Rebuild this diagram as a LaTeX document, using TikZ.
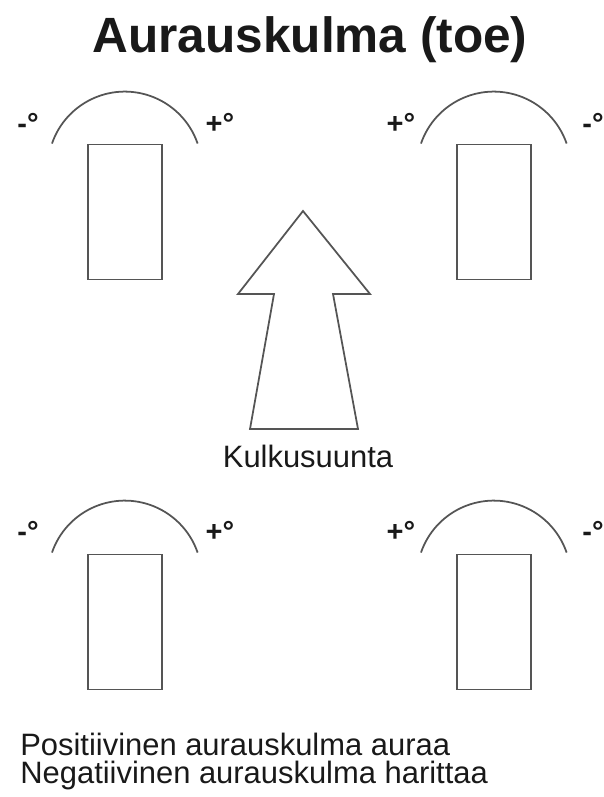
\documentclass[tikz,border=0pt]{standalone}
\usepackage{fontspec}
\setmainfont{Liberation Sans}
\usepackage{xcolor}
\usetikzlibrary{positioning}

\definecolor{linegray}{RGB}{85,85,85}
\definecolor{inkblack}{RGB}{25,25,25}

\begin{document}
\begin{tikzpicture}[x=0.02cm, y=-0.02cm,
  wheel/.style={draw=linegray, line width=1.1pt, minimum width=1.48cm, minimum height=2.7cm, inner sep=0pt},
  swing/.style={draw=linegray, line width=1pt},
  sign/.style={anchor=base, inner sep=0pt, text=inkblack, font=\bfseries\fontsize{16.5}{16.5}\selectfont},
  caption/.style={inner sep=0pt, text=inkblack, font=\fontsize{17.6}{15.9}\selectfont}]
\useasboundingbox (0,0) rectangle (604,797);
\node[anchor=base, inner sep=0pt, text=inkblack, font=\bfseries\fontsize{28.2}{28.2}\selectfont] (title) at (310,53) {Aurauskulma (toe)};
% wheels
\node[wheel] (fl) at (125,212) {};
\node[wheel] (fr) at (494,212) {};
\node[wheel] (rl) at (125,622) {};
\node[wheel] (rr) at (494,622) {};
% turning arcs
\draw[swing] ([shift={(-73,0)}]fl.north) arc[start angle=199, end angle=341, radius=77];
\draw[swing] ([shift={(-73,0)}]fr.north) arc[start angle=199, end angle=341, radius=77];
\draw[swing] ([shift={(-73,-1)}]rl.north) arc[start angle=199, end angle=341, radius=77];
\draw[swing] ([shift={(-73,-1)}]rr.north) arc[start angle=199, end angle=341, radius=77];
\node[sign] (flm) at ([shift={(-97,-10)}]fl.north) {-°};
\node[sign] (flp) at ([shift={(95,-10)}]fl.north) {+°};
\node[sign] (frp) at ([shift={(-93,-10)}]fr.north) {+°};
\node[sign] (frm) at ([shift={(99,-10)}]fr.north) {-°};
\node[sign] (rlm) at ([shift={(-97,-12)}]rl.north) {-°};
\node[sign] (rlp) at ([shift={(95,-12)}]rl.north) {+°};
\node[sign] (rrp) at ([shift={(-93,-12)}]rr.north) {+°};
\node[sign] (rrm) at ([shift={(99,-12)}]rr.north) {-°};
% direction of travel
\draw[swing, line join=miter] (303,211) -- (370,294) -- (333,294) -- (358,429)
  -- (250,429) -- (274,294) -- (238,294) -- cycle;
\node[caption, anchor=base] (dir) at (308,467) {Kulkusuunta};
\node[caption, anchor=base west, align=left] (note) at (20,783)
  {Positiivinen aurauskulma auraa\\Negatiivinen aurauskulma harittaa};
\end{tikzpicture}
\end{document}
